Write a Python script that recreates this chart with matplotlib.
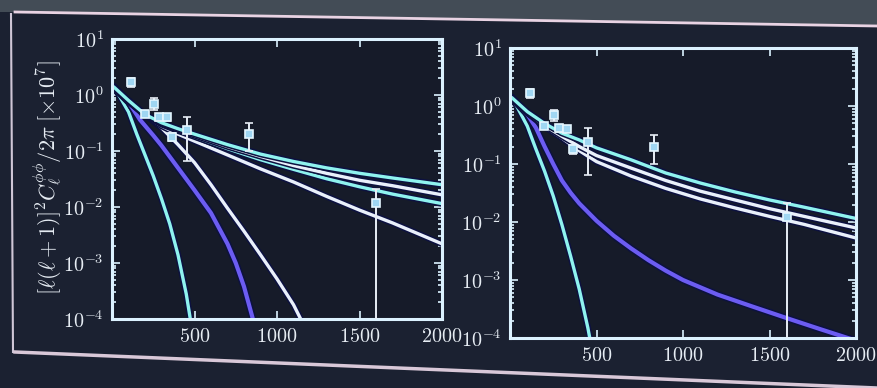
import numpy as np
import matplotlib.pyplot as plt
from matplotlib import patheffects as pe
from matplotlib.lines import Line2D
from matplotlib.patches import Polygon
from matplotlib.ticker import FuncFormatter, LogLocator, NullFormatter

plt.rcParams['mathtext.fontset'] = 'cm'

# lensing bandpowers (same in both panels)
ell_pts = np.array([115, 197, 255, 282, 331, 366, 452, 830, 1600])
pts = np.array([1.7, 0.45, 0.69, 0.41, 0.40, 0.18, 0.24, 0.20, 0.012])
pts_lower = np.array([1.4, 0.40, 0.55, 0.36, 0.35, 0.15, 0.065, 0.10, 1e-6])
pts_upper = np.array([2.0, 0.50, 0.87, 0.46, 0.45, 0.21, 0.41, 0.32, 0.021])

# left panel model curves
ell_cyan = [10, 100, 150, 200, 250, 300, 350, 400, 450, 480]
cyan_left = [1.45, 0.5, 0.2, 0.085, 0.036, 0.014, 0.005, 0.0014, 0.00028, 0.00008]
ell_purple_left = [10, 100, 170, 250, 300, 400, 500, 600, 700, 750, 800, 850, 880]
purple_left = [1.4, 0.75, 0.36, 0.19, 0.125, 0.05, 0.02, 0.0078, 0.0022, 0.001, 0.00038,
               0.00011, 0.00005]
ell_white_steep = [10, 100, 200, 300, 400, 500, 600, 700, 800, 900, 1000, 1100, 1160]
white_steep = [1.4, 0.76, 0.45, 0.26, 0.13, 0.062, 0.025, 0.0095, 0.0037, 0.0014, 0.00052,
               0.00018, 0.00008]

ell_long = [10, 100, 200, 300, 400, 500, 700, 900, 1100, 1300, 1500, 1700, 2000]
long_a = [1.4, 0.8, 0.45, 0.32, 0.25, 0.2, 0.13, 0.088, 0.065, 0.05, 0.04, 0.033, 0.025]
long_b = [1.4, 0.8, 0.45, 0.31, 0.24, 0.19, 0.12, 0.08, 0.055, 0.04, 0.03, 0.024, 0.0165]
long_c = [1.4, 0.78, 0.44, 0.3, 0.23, 0.18, 0.11, 0.07, 0.047, 0.032, 0.023, 0.017, 0.0115]
long_d = [1.4, 0.78, 0.43, 0.28, 0.2, 0.15, 0.085, 0.048, 0.028, 0.0155, 0.0088, 0.0052, 0.0022]

# right panel model curves
cyan_right = [1.45, 0.45, 0.18, 0.075, 0.028, 0.009, 0.0026, 0.0007, 0.00015, 0.00005]
ell_purple_right = [10, 100, 150, 200, 250, 300, 350, 400, 500, 600, 700, 800, 900, 1000,
                    1200, 1400, 1600, 1800, 2000]
purple_right = [1.4, 0.72, 0.42, 0.2, 0.1, 0.052, 0.032, 0.021, 0.0105, 0.0058, 0.0035,
                0.0022, 0.00145, 0.001, 0.00056, 0.00035, 0.00022, 0.00014, 0.00009]
long_e = [1.4, 0.8, 0.5, 0.34, 0.26, 0.19, 0.118, 0.07, 0.047, 0.033, 0.024, 0.018, 0.0115]
long_f = [1.4, 0.78, 0.46, 0.3, 0.2, 0.14, 0.085, 0.052, 0.034, 0.024, 0.017, 0.0125, 0.0079]
long_g = [1.4, 0.76, 0.44, 0.28, 0.17, 0.11, 0.062, 0.038, 0.025, 0.0175, 0.0125, 0.0091, 0.0053]

xticks = [500, 1000, 1500, 2000]

CYAN = '#8ff3ef'
WHITE = '#e9f0fb'
PURPLE = '#6c5cf2'
FRAME = '#dcf2ff'
TEXT = '#e6ecf3'

W, H = 877, 388
fig = plt.figure(figsize=(W / 100, H / 100), dpi=100)
fig.patch.set_facecolor('#1b2131')

# wall above the screen and the screen edges
fig.add_artist(Polygon([(0, 1), (1, 1), (1, 1 - 25 / H), (15 / W, 1 - 12 / H), (0, 1 - 12 / H)],
                       closed=True, transform=fig.transFigure, facecolor='#434c56',
                       edgecolor='none', zorder=0))
fig.add_artist(Line2D([15 / W, 1], [1 - 12 / H, 1 - 26 / H], color='#e9d3e3', lw=2,
                      transform=fig.transFigure))
fig.add_artist(Line2D([11 / W, 13 / W], [1 - 14 / H, 1 - 352 / H], color='#cfc6d6', lw=1.5,
                      transform=fig.transFigure))
fig.add_artist(Line2D([15 / W, 1], [1 - 352 / H, 1 - 388 / H], color='#d9c8d8', lw=2.5,
                      transform=fig.transFigure))


def curve(ax, x, y, color, lw=2.4):
    ax.plot(x, y, color=color, lw=lw, solid_capstyle='round', solid_joinstyle='round',
            path_effects=[pe.Stroke(linewidth=lw + 2.2, foreground='#0c1140'), pe.Normal()])


def style(ax):
    ax.set_facecolor('#161b29')
    ax.set_yscale('log')
    ax.set_xlim(0, 2000)
    ax.set_ylim(1e-4, 1e1)
    ax.set_xticks(xticks)
    ax.xaxis.set_major_formatter(FuncFormatter(lambda v, p: r'$%d$' % v))
    ax.yaxis.set_major_locator(LogLocator(base=10))
    ax.yaxis.set_minor_locator(LogLocator(base=10, subs=range(2, 10)))
    ax.yaxis.set_minor_formatter(NullFormatter())
    ax.yaxis.set_major_formatter(FuncFormatter(lambda v, p: r'$10^{%d}$' % round(np.log10(v))))
    for s in ax.spines.values():
        s.set_color(FRAME)
        s.set_linewidth(2.2)
    ax.tick_params(which='both', direction='in', top=True, right=True, color=FRAME,
                   labelcolor=TEXT, labelsize=14.5, width=1.2)
    ax.tick_params(which='major', length=6, pad=6)
    ax.tick_params(which='minor', length=3)


def bandpowers(ax):
    ax.errorbar(ell_pts, pts, yerr=[pts - pts_lower, pts_upper - pts], fmt='s', ms=6,
                mfc='#9fd6f2', mec='#e4f6ff', mew=1.2, ecolor='#e8eef6', elinewidth=1.4,
                capsize=3, zorder=5)


axL = fig.add_axes([112 / W, 1 - 319 / H, 330 / W, 280 / H])
style(axL)
curve(axL, ell_cyan, cyan_left, CYAN)
curve(axL, ell_purple_left, purple_left, PURPLE, lw=3)
curve(axL, ell_white_steep, white_steep, WHITE)
curve(axL, ell_long, long_d, WHITE)
curve(axL, ell_long, long_c, CYAN)
curve(axL, ell_long, long_b, WHITE)
curve(axL, ell_long, long_a, CYAN)
bandpowers(axL)

axR = fig.add_axes([510 / W, 1 - 338 / H, 346 / W, 290 / H])
style(axR)
curve(axR, ell_cyan, cyan_right, CYAN)
curve(axR, ell_purple_right, purple_right, PURPLE, lw=3)
curve(axR, ell_long, long_g, WHITE)
curve(axR, ell_long, long_f, WHITE)
curve(axR, ell_long, long_e, CYAN)
bandpowers(axR)

fig.text(48 / W, 1 - 178 / H, r'$[\ell(\ell+1)]^2C_\ell^{\phi\phi}/2\pi\;[\times 10^7]$',
         rotation=90, ha='center', va='center', fontsize=16, color=TEXT)

fig.savefig('out.png', dpi=100, facecolor=fig.get_facecolor())
